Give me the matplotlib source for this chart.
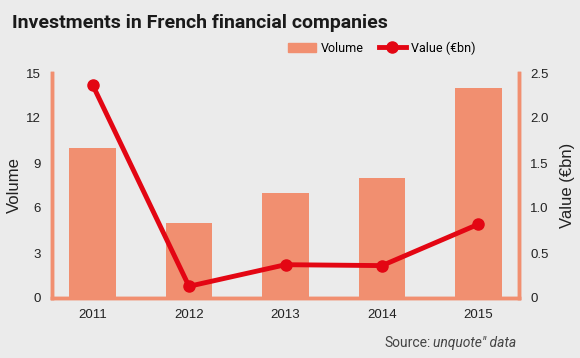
import matplotlib.pyplot as plt
from matplotlib.lines import Line2D
from matplotlib.patches import Patch

# Data
years = ['2011', '2012', '2013', '2014', '2015']
volume = [10, 5, 7, 8, 14]
value_bn = [2.37, 0.13, 0.37, 0.36, 0.82]

bg = '#ebebeb'
bar_color = '#f18f70'
line_color = '#e30613'

plt.rcParams['font.family'] = ['Liberation Sans', 'DejaVu Sans']

fig = plt.figure(figsize=(5.8, 3.58), dpi=100, facecolor=bg)
ax = fig.add_axes([52 / 580, 60 / 358, 467 / 580, 225 / 358])
ax.set_facecolor(bg)

x = list(range(len(years)))
ax.bar(x, volume, width=0.48, color=bar_color, zorder=1)
ax.set_xlim(-0.42, 4.42)
ax.set_ylim(0, 15)
ax.set_yticks([0, 3, 6, 9, 12, 15])
ax.set_xticks(x)
ax.set_xticklabels(years)
ax.set_ylabel('Volume', fontsize=12, color='#222222', labelpad=3)

ax2 = ax.twinx()
ax2.plot(x, value_bn, color=line_color, lw=3.5, marker='o', markersize=8, zorder=3)
ax2.set_ylim(0, 2.5)
ax2.set_yticks([0, 0.5, 1.0, 1.5, 2.0, 2.5])
ax2.set_yticklabels(['0', '0.5', '1.0', '1.5', '2.0', '2.5'])
ax2.set_ylabel('Value (€bn)', fontsize=12, color='#222222', labelpad=8)

for a in (ax, ax2):
    a.spines['top'].set_visible(False)
    for s in ('left', 'right', 'bottom'):
        a.spines[s].set_color(bar_color)
        a.spines[s].set_linewidth(2.5)
    a.tick_params(length=0, labelsize=9.5, colors='#222222', pad=8)

fig.text(0.02, 0.935, 'Investments in French financial companies',
         fontsize=14, fontweight='bold', color='#1a1a1a',
         family=['Roboto', 'DejaVu Sans'], va='center')

handles = [Patch(color=bar_color),
           Line2D([0], [0], color=line_color, lw=3.5, marker='o', markersize=8)]
fig.legend(handles, ['Volume', 'Value (€bn)'], loc='center right',
           bbox_to_anchor=(0.82, 0.866), ncol=2, frameon=False,
           prop={'family': ['Roboto', 'DejaVu Sans'], 'size': 9},
           handlelength=2.2, columnspacing=1.2, handletextpad=0.4,
           borderpad=0, borderaxespad=0)

# Source line: italic part right-aligned, "Source: " placed to its left
ital = fig.text(0.89, 0.03, 'unquote" data', fontsize=10, color='#444444',
                ha='right', style='italic', family=['Roboto', 'DejaVu Sans'])
fig.canvas.draw()
bb = ital.get_window_extent().transformed(fig.transFigure.inverted())
fig.text(bb.x0 - 0.004, 0.03, 'Source:', fontsize=10, color='#444444', ha='right',
         family=['Roboto', 'DejaVu Sans'])

fig.savefig('out.png', dpi=100, facecolor=bg)
